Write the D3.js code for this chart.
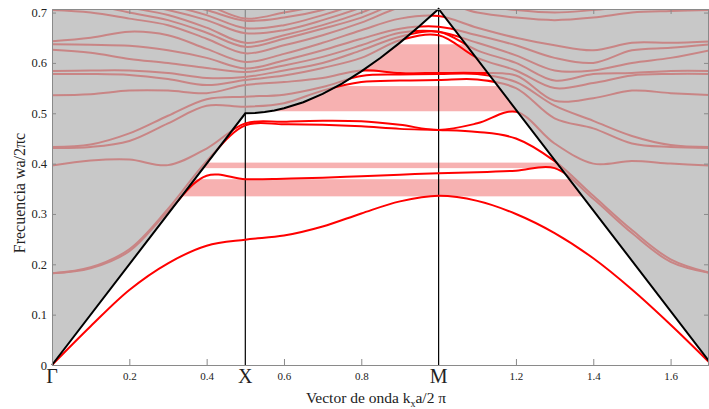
<!DOCTYPE html>
<html>
<head>
<meta charset="utf-8">
<script src="https://cdn.jsdelivr.net/npm/d3@7"></script>
<style>
	body { margin: 0; background: #fff; }
	text { font-family: "Liberation Serif", "Times New Roman", serif; fill: #222; }
</style>
</head>
<body>
<div class="canvas"></div>
<script>

// K PATH (Γ -> X -> M -> Γ), reduced units
var kPath = [0, 0.1, 0.2, 0.3, 0.4, 0.5, 0.6, 0.7, 0.8, 0.9, 1.0, 1.1, 1.2, 1.3, 1.4, 1.5, 1.6, 1.7071];

// BANDS (wa/2πc at each kPath point)
var band01 = [0, 0.077, 0.149, 0.202, 0.237, 0.249, 0.257, 0.275, 0.301, 0.325, 0.336, 0.326, 0.300, 0.262, 0.212, 0.150, 0.080, 0];
var band02 = [0.182, 0.192, 0.226, 0.305, 0.376, 0.369, 0.370, 0.372, 0.375, 0.378, 0.381, 0.383, 0.386, 0.391, 0.330, 0.262, 0.205, 0.182];
var band03 = [0.182, 0.194, 0.230, 0.310, 0.405, 0.476, 0.478, 0.477, 0.474, 0.469, 0.467, 0.463, 0.450, 0.405, 0.336, 0.268, 0.210, 0.182];
var band04 = [0.396, 0.406, 0.408, 0.397, 0.430, 0.480, 0.483, 0.485, 0.484, 0.477, 0.467, 0.480, 0.503, 0.440, 0.400, 0.405, 0.400, 0.396];
var band05 = [0.431, 0.433, 0.445, 0.480, 0.515, 0.513, 0.520, 0.545, 0.562, 0.565, 0.566, 0.567, 0.550, 0.490, 0.470, 0.440, 0.433, 0.431];
var band06 = [0.433, 0.438, 0.460, 0.495, 0.528, 0.533, 0.537, 0.552, 0.574, 0.577, 0.578, 0.578, 0.562, 0.515, 0.485, 0.455, 0.437, 0.433];
var band07 = [0.536, 0.538, 0.545, 0.545, 0.540, 0.556, 0.562, 0.570, 0.585, 0.580, 0.580, 0.580, 0.575, 0.525, 0.530, 0.545, 0.540, 0.536];
var band08 = [0.578, 0.578, 0.576, 0.568, 0.556, 0.566, 0.575, 0.590, 0.610, 0.645, 0.655, 0.610, 0.585, 0.550, 0.560, 0.575, 0.578, 0.578];
var band09 = [0.584, 0.585, 0.585, 0.580, 0.570, 0.572, 0.585, 0.600, 0.625, 0.652, 0.662, 0.625, 0.600, 0.565, 0.578, 0.580, 0.584, 0.584];
var band10 = [0.626, 0.620, 0.608, 0.600, 0.590, 0.582, 0.595, 0.612, 0.635, 0.660, 0.662, 0.640, 0.615, 0.585, 0.585, 0.600, 0.610, 0.626];
var band11 = [0.637, 0.636, 0.634, 0.625, 0.610, 0.589, 0.605, 0.625, 0.648, 0.668, 0.672, 0.655, 0.635, 0.610, 0.600, 0.625, 0.630, 0.637];
var band12 = [0.643, 0.650, 0.662, 0.655, 0.628, 0.602, 0.618, 0.640, 0.665, 0.688, 0.693, 0.670, 0.650, 0.635, 0.625, 0.640, 0.640, 0.643];
var band13 = [0.705, 0.700, 0.688, 0.675, 0.648, 0.619, 0.635, 0.655, 0.680, 0.710, 0.720, 0.700, 0.690, 0.685, 0.690, 0.700, 0.703, 0.705];
var band14 = [0.720, 0.715, 0.700, 0.685, 0.660, 0.632, 0.648, 0.668, 0.690, 0.720, 0.730, 0.715, 0.705, 0.700, 0.705, 0.712, 0.715, 0.720];
var band15 = [0.730, 0.725, 0.710, 0.695, 0.670, 0.640, 0.655, 0.675, 0.700, 0.730, 0.740, 0.730, 0.720, 0.715, 0.720, 0.725, 0.728, 0.730];
var band16 = [0.740, 0.735, 0.720, 0.705, 0.685, 0.659, 0.665, 0.685, 0.710, 0.740, 0.750, 0.740, 0.730, 0.725, 0.730, 0.735, 0.738, 0.740];
var band17 = [0.750, 0.745, 0.730, 0.715, 0.695, 0.669, 0.675, 0.695, 0.720, 0.750, 0.760, 0.750, 0.740, 0.735, 0.740, 0.745, 0.748, 0.750];
var band18 = [0.760, 0.755, 0.740, 0.725, 0.705, 0.684, 0.690, 0.705, 0.730, 0.760, 0.770, 0.760, 0.750, 0.745, 0.750, 0.755, 0.758, 0.760];
var band19 = [0.770, 0.765, 0.750, 0.735, 0.715, 0.688, 0.700, 0.715, 0.740, 0.770, 0.780, 0.770, 0.760, 0.755, 0.760, 0.765, 0.768, 0.770];

var bands = [band01, band02, band03, band04, band05, band06, band07, band08, band09, band10,
	band11, band12, band13, band14, band15, band16, band17, band18, band19];

// LIGHT LINE
var lightK = [0, 0.5, 0.525, 0.55, 0.575, 0.6, 0.65, 0.7, 0.75, 0.8, 0.85, 0.9, 0.95, 1.0, 1.7071];
var lightW = [0, 0.5, 0.5006, 0.5025, 0.5056, 0.5099, 0.5220, 0.5385, 0.5590, 0.5831, 0.6103, 0.6403, 0.6727, 0.7071, 0];

// GAPS (pink bands)
var gapLow  = [0.335, 0.391, 0.504, 0.582];
var gapHigh = [0.369, 0.402, 0.554, 0.637];

// TICKS
var xTicks = [0.2, 0.4, 0.6, 0.8, 1.2, 1.4, 1.6];
var yTicks = [0, 0.1, 0.2, 0.3, 0.4, 0.5, 0.6, 0.7];
var symLabels = ["Γ", "X", "M"];
var symK = [0, 0.5, 1.0];


var svg = d3.select(".canvas")
				.append("svg")
				.attr("width", 709)
				.attr("height", 409);

var x = d3.scaleLinear().domain([0, 1.7071]).range([52, 712]);
var y = d3.scaleLinear().domain([0, 0.7071]).range([365, 9]);

var light = lightK.map(function(k, i){ return [k, lightW[i]]; });

var defs = svg.append("defs");

// region above the light line
var cone = d3.area()
	.x(function(d){ return x(d[0]); })
	.y0(y.range()[1])
	.y1(function(d){ return y(d[1]); });

// region below the light line
var under = d3.area()
	.x(function(d){ return x(d[0]); })
	.y0(y.range()[0])
	.y1(function(d){ return y(d[1]); });

defs.append("clipPath").attr("id", "aboveClip")
	.append("path").attr("d", cone(light));
defs.append("clipPath").attr("id", "belowClip")
	.append("path").attr("d", under(light));

// PINK BANDS
svg.append("g").selectAll("rect")
	.data(gapLow)
	.enter().append("rect")
	.attr("x", x(0))
	.attr("width", x(1.7071) - x(0))
	.attr("y", function(d, i){ return y(gapHigh[i]); })
	.attr("height", function(d, i){ return y(d) - y(gapHigh[i]); })
	.attr("fill", "#f7b1b1");

// GRAY LIGHT CONE
svg.append("path")
	.attr("d", cone(light))
	.attr("fill", "#c8c8c8");

// VERTICAL LINES AT X AND M
symK.slice(1).forEach(function(k){
	var w = lightW[lightK.indexOf(k)];
	svg.append("line")
		.attr("x1", x(k)).attr("x2", x(k))
		.attr("y1", y(0.7071)).attr("y2", y(w))
		.attr("stroke", "#8a8a8a").attr("stroke-width", 1.2);
	svg.append("line")
		.attr("x1", x(k)).attr("x2", x(k))
		.attr("y1", y(w)).attr("y2", y(0))
		.attr("stroke", "#000").attr("stroke-width", 1.2);
});

var bandLine = d3.line()
	.x(function(d, i){ return x(kPath[i]); })
	.y(function(d){ return y(d); })
	.curve(d3.curveCatmullRom.alpha(0.5));

// BANDS ABOVE THE LIGHT LINE
svg.append("g")
	.attr("clip-path", "url(#aboveClip)")
	.selectAll("path")
	.data(bands)
	.enter().append("path")
	.attr("d", bandLine)
	.attr("fill", "none")
	.attr("stroke", "#c98585")
	.attr("stroke-width", 2);

// GUIDED BANDS
svg.append("g")
	.attr("clip-path", "url(#belowClip)")
	.selectAll("path")
	.data(bands)
	.enter().append("path")
	.attr("d", bandLine)
	.attr("fill", "none")
	.attr("stroke", "#ff0000")
	.attr("stroke-width", 2);

// LIGHT LINE
svg.append("path")
	.attr("d", d3.line()
		.x(function(d){ return x(d[0]); })
		.y(function(d){ return y(d[1]); })(light))
	.attr("fill", "none")
	.attr("stroke", "#000")
	.attr("stroke-width", 2);

// AXES
var fmt = function(d){ return d === 0 ? "0" : d3.format(".1f")(d); };

var gx = svg.append("g")
	.attr("transform", "translate(0," + y(0) + ")")
	.call(d3.axisBottom(x).tickValues(xTicks).tickFormat(fmt).tickSizeInner(-6).tickSizeOuter(0).tickPadding(7));

var gy = svg.append("g")
	.attr("transform", "translate(" + x(0) + ",0)")
	.call(d3.axisLeft(y).tickValues(yTicks).tickFormat(fmt).tickSizeInner(-4).tickSizeOuter(0).tickPadding(5));

svg.append("g")
	.attr("transform", "translate(0," + y(0.7071) + ")")
	.call(d3.axisTop(x).tickValues(xTicks).tickFormat("").tickSizeInner(-5).tickSizeOuter(0));

svg.append("g")
	.attr("transform", "translate(" + (x(1.7071) - 4) + ",0)")
	.call(d3.axisRight(y).tickValues(yTicks).tickFormat("").tickSizeInner(-4).tickSizeOuter(0));

svg.selectAll(".domain").attr("stroke", "#8a8a8a");
svg.selectAll(".tick line").attr("stroke", "#8a8a8a");
gx.selectAll("text").attr("font-size", 11).attr("font-family", null);
gy.selectAll("text").attr("font-size", 12.5).attr("font-family", null);

// SYMMETRY POINT LABELS
svg.append("g").selectAll("text")
	.data(symLabels)
	.enter().append("text")
	.attr("x", function(d, i){ return x(symK[i]); })
	.attr("y", 383)
	.attr("text-anchor", "middle")
	.attr("font-size", 20)
	.text(function(d){ return d; });

// AXIS TITLES
var xt = svg.append("text")
	.attr("x", 376)
	.attr("y", 403)
	.attr("text-anchor", "middle")
	.attr("font-size", 15.5);
xt.append("tspan").text("Vector de onda k");
xt.append("tspan").attr("font-size", 10).attr("dy", 4).text("x");
xt.append("tspan").attr("dy", -4).text("a/2 π");

svg.append("text")
	.attr("transform", "translate(25,193) rotate(-90)")
	.attr("text-anchor", "middle")
	.attr("font-size", 16)
	.text("Frecuencia wa/2πc");

</script>
</body>
</html>
